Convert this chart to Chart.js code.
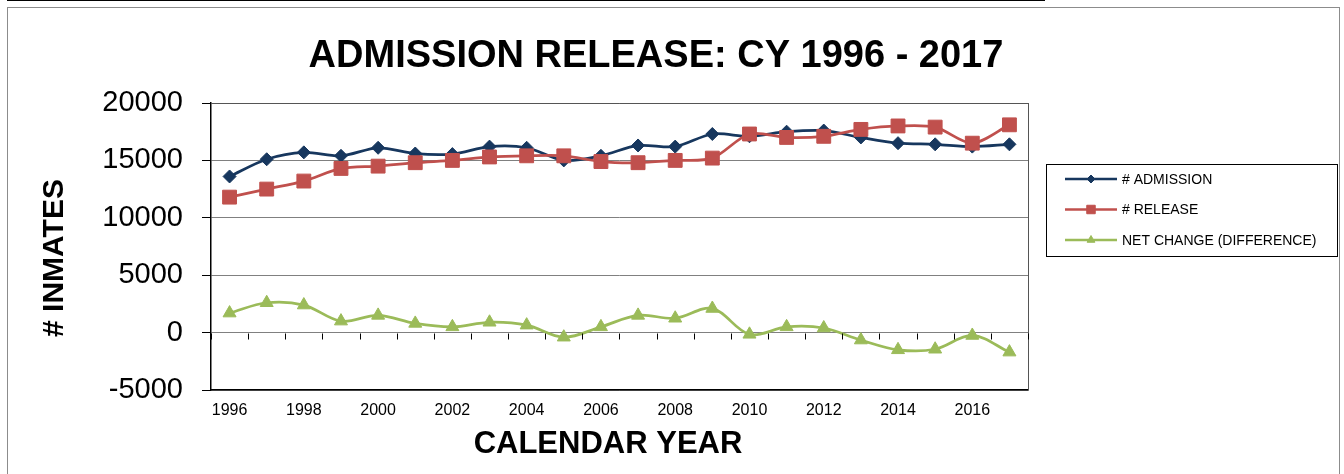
<!DOCTYPE html>
<html>
<head>
<meta charset="utf-8">
<script src="https://cdn.jsdelivr.net/npm/chart.js@4/dist/chart.umd.min.js"></script>
<style>
  html, body { margin: 0; padding: 0; background: #fff; }
  #wrap { position: relative; width: 1344px; height: 474px; overflow: hidden; }
  #topline { position: absolute; left: 7px; top: 0; width: 1038px; height: 1px; background: #000; }
  #frame { position: absolute; left: 7px; top: 7px; width: 1333px; height: 480px; border: 1px solid #8c8c8c; box-sizing: border-box; }
  canvas { position: absolute; left: 0; top: 0; }
</style>
</head>
<body>
<div id="wrap">
  <div id="topline"></div>
  <div id="frame"></div>
  <canvas id="c" width="1344" height="474"></canvas>
</div>
<script>
const years = ['1996','1997','1998','1999','2000','2001','2002','2003','2004','2005','2006','2007','2008','2009','2010','2011','2012','2013','2014','2015','2016','2017'];
const admissions = [13600,15100,15700,15400,16100,15600,15550,16200,16100,15000,15400,16300,16200,17300,17100,17500,17600,17000,16500,16400,16200,16400];
const releases = [11800,12500,13200,14300,14500,14800,15000,15300,15400,15400,14900,14800,15000,15200,17300,17000,17100,17700,18000,17900,16500,18100];
const netChange = [1700,2600,2400,1000,1500,800,500,900,650,-400,500,1500,1250,2100,-150,500,400,-650,-1500,-1450,-250,-1700];
const seriesNames = ['# ADMISSION', '# RELEASE', 'NET CHANGE (DIFFERENCE)'];
const yTicks = [-5000, 0, 5000, 10000, 15000, 20000];
const yTickLabels = ['-5000', '0', '5000', '10000', '15000', '20000'];
const chartTitle = 'ADMISSION RELEASE: CY 1996 - 2017';
const xTitle = 'CALENDAR YEAR';
const yTitle = '# INMATES';

const FONT = "'Liberation Sans', Arial, sans-serif";
const C_ADM = '#17375E', C_REL = '#C0504D', C_NET = '#9BBB59';

function drawMarker(ctx, style, x, y, r, color) {
  ctx.save();
  ctx.fillStyle = color; ctx.strokeStyle = color; ctx.lineWidth = 1;
  ctx.beginPath();
  if (style === 'rectRot') {
    ctx.moveTo(x - r, y); ctx.lineTo(x, y - r); ctx.lineTo(x + r, y); ctx.lineTo(x, y + r);
  } else if (style === 'rect') {
    const s = r * Math.SQRT1_2;
    ctx.rect(x - s, y - s, 2 * s, 2 * s);
  } else {
    ctx.moveTo(x, y - r);
    ctx.lineTo(x + 0.866 * r, y + 0.5 * r);
    ctx.lineTo(x - 0.866 * r, y + 0.5 * r);
  }
  ctx.closePath(); ctx.fill(); ctx.stroke();
  ctx.restore();
}

const decor = {
  id: 'decor',
  afterDraw(chart) {
    const ctx = chart.ctx, xs = chart.scales.x, ys = chart.scales.y, a = chart.chartArea;
    ctx.save();
    // plot area top and right border
    ctx.strokeStyle = '#555'; ctx.lineWidth = 1;
    ctx.beginPath();
    ctx.moveTo(a.left, a.top + 0.5); ctx.lineTo(a.right + 0.5, a.top + 0.5);
    ctx.moveTo(a.right + 0.5, a.top); ctx.lineTo(a.right + 0.5, a.bottom);
    ctx.stroke();
    // category tick marks on the zero line
    const y0 = Math.round(ys.getPixelForValue(0)) + 0.5;
    const step = xs.getPixelForValue(1) - xs.getPixelForValue(0);
    ctx.strokeStyle = '#000';
    ctx.beginPath();
    for (let i = 0; i <= years.length; i++) {
      const x = Math.round(xs.getPixelForValue(0) - step / 2 + i * step) + 0.5;
      ctx.moveTo(x, y0); ctx.lineTo(x, y0 + 6);
    }
    ctx.stroke();
    // title
    ctx.fillStyle = '#000';
    ctx.textAlign = 'center'; ctx.textBaseline = 'alphabetic';
    ctx.font = 'bold 38px ' + FONT;
    ctx.fillText(chartTitle, 656, 67);
    // x title
    ctx.font = 'bold 31px ' + FONT;
    ctx.fillText(xTitle, 608, 453);
    // y title
    ctx.save();
    ctx.translate(63, 258);
    ctx.rotate(-Math.PI / 2);
    ctx.font = 'bold 30px ' + FONT;
    ctx.fillText(yTitle, 0, 0);
    ctx.restore();
    // legend
    ctx.strokeStyle = '#000'; ctx.lineWidth = 1;
    ctx.strokeRect(1046.5, 164.5, 291, 92);
    const items = [
      { color: C_ADM, style: 'rectRot', r: 4 },
      { color: C_REL, style: 'rect', r: 6 },
      { color: C_NET, style: 'triangle', r: 4.5 }
    ];
    ctx.font = '14px ' + FONT;
    ctx.textAlign = 'left'; ctx.textBaseline = 'middle';
    items.forEach((it, i) => {
      const y = 179 + i * 30.5;
      ctx.strokeStyle = it.color; ctx.lineWidth = 2.5;
      ctx.beginPath(); ctx.moveTo(1065, y); ctx.lineTo(1117, y); ctx.stroke();
      drawMarker(ctx, it.style, 1091, y, it.r, it.color);
      ctx.fillStyle = '#000';
      ctx.fillText(seriesNames[i], 1122, y + 1);
    });
    ctx.restore();
  }
};

new Chart(document.getElementById('c'), {
  type: 'line',
  data: {
    labels: years,
    datasets: [
      { label: seriesNames[0], data: admissions, borderColor: C_ADM, backgroundColor: C_ADM,
        borderWidth: 2.75, pointStyle: 'rectRot', pointRadius: 6.5, pointBorderWidth: 1, tension: 0.3, order: 3 },
      { label: seriesNames[1], data: releases, borderColor: C_REL, backgroundColor: C_REL,
        borderWidth: 2.75, pointStyle: 'rect', pointRadius: 9.8, pointBorderWidth: 1, tension: 0.3, order: 2 },
      { label: seriesNames[2], data: netChange, borderColor: C_NET, backgroundColor: C_NET,
        borderWidth: 2.75, pointStyle: 'triangle', pointRadius: 7.5, pointBorderWidth: 1, tension: 0.35, order: 1 }
    ]
  },
  options: {
    responsive: false,
    animation: false,
    devicePixelRatio: 1,
    layout: { padding: { top: 103, right: 316, bottom: 0, left: 0 } },
    plugins: { legend: { display: false }, title: { display: false }, tooltip: { enabled: false } },
    scales: {
      x: {
        type: 'category',
        offset: true,
        grid: { display: false, drawTicks: false },
        border: { display: true, color: '#000', width: 1.5 },
        ticks: {
          autoSkip: false, maxRotation: 0, padding: 11, color: '#000',
          font: { family: FONT, size: 16 },
          callback: function (v, i) { return i % 2 === 0 ? years[i] : ''; }
        },
        afterFit: function (s) { s.height = 84; }
      },
      y: {
        min: yTicks[0], max: yTicks[yTicks.length - 1],
        afterBuildTicks: function (s) { s.ticks = yTicks.map(v => ({ value: v })); },
        grid: { color: '#808080', lineWidth: 1, tickLength: 9, tickColor: '#000', drawTicks: true },
        border: { display: true, color: '#000', width: 1.5 },
        ticks: {
          padding: 19, color: '#000', font: { family: FONT, size: 29 },
          callback: function (v) { const k = yTicks.indexOf(v); return k >= 0 ? yTickLabels[k] : ''; }
        },
        afterFit: function (s) { s.width = 211; }
      }
    }
  },
  plugins: [decor]
});
</script>
</body>
</html>
